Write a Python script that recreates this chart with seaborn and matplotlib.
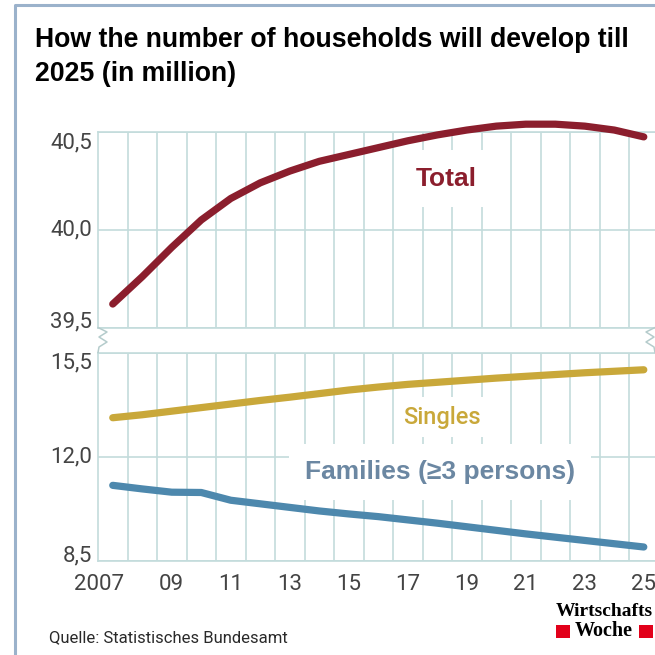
import matplotlib
matplotlib.use("Agg")
import numpy as np
import matplotlib.pyplot as plt
import matplotlib.transforms as mtransforms
from matplotlib.lines import Line2D
from matplotlib.patches import Rectangle
import seaborn as sns

# ---- data (million households) ----
years = list(range(2007, 2026))
total = [39.62, 39.76, 39.91, 40.05, 40.16, 40.24, 40.30, 40.35, 40.385, 40.42,
         40.455, 40.485, 40.51, 40.53, 40.54, 40.54, 40.53, 40.51, 40.475]
singles = [13.31, 13.41, 13.53, 13.65, 13.77, 13.89, 14.00, 14.12, 14.24, 14.34,
           14.43, 14.50, 14.57, 14.64, 14.70, 14.76, 14.82, 14.87, 14.92]
families = [11.04, 10.92, 10.81, 10.80, 10.54, 10.42, 10.30, 10.18, 10.08, 9.99,
            9.88, 9.77, 9.65, 9.53, 9.41, 9.30, 9.19, 9.08, 8.97]

x_ticks = [2007, 2009, 2011, 2013, 2015, 2017, 2019, 2021, 2023, 2025]
x_labels = ["2007", "09", "11", "13", "15", "17", "19", "21", "23", "25"]
top_ticks = [39.5, 40.0, 40.5]
top_labels = ["39,5", "40,0", "40,5"]
bottom_ticks = [8.5, 12.0, 15.5]
bottom_labels = ["8,5", "12,0", "15,5"]

title_lines = ["How the number of households will develop till", "2025 (in million)"]
source_text = "Quelle: Statistisches Bundesamt"

# ---- style ----
sns.set_style("white")
plt.rcParams["font.family"] = ["Roboto", "DejaVu Sans"]

C_TOTAL = "#8b1e2d"
C_SINGLES = "#c9a83a"
C_FAMILIES = "#4d88ad"
C_FAMILIES_TXT = "#6b87a2"
C_GRID = "#c3dcdc"
C_FRAME = "#9bb2cb"
C_TICK = "#444444"
BOLD_SANS = ["Liberation Sans", "DejaVu Sans"]

W = H = 655
fig = plt.figure(figsize=(W / 100, H / 100), dpi=100)


def fx(px):
    return px / W


def fy(py):
    return 1 - py / H


ax_top = fig.add_axes([fx(98), fy(327.5), fx(655 - 98), (327.5 - 132) / H])
ax_bot = fig.add_axes([fx(98), fy(561), fx(655 - 98), (561 - 352.5) / H])

for ax in (ax_top, ax_bot):
    ax.set_xlim(2006.5, 2025.38)
    ax.set_xticks(np.arange(2007.5, 2025, 1.0), minor=True)
    ax.grid(which="minor", axis="x", color=C_GRID, lw=1.2)
    ax.grid(which="major", axis="y", color=C_GRID, lw=1.2)
    ax.grid(which="major", axis="x", visible=False)
    for side in ("left", "top", "bottom"):
        ax.spines[side].set_color(C_GRID)
        ax.spines[side].set_linewidth(1.2)
    ax.spines["right"].set_visible(False)
    ax.tick_params(axis="both", which="both", length=0, labelsize=16,
                   labelcolor=C_TICK)
    ax.tick_params(axis="y", pad=4.5)
    ax.set_axisbelow(True)

# upper panel: all households
sns.lineplot(x=years, y=total, ax=ax_top, color=C_TOTAL, lw=5.2,
             solid_capstyle="round", solid_joinstyle="round",
             clip_on=False, zorder=5)
ax_top.set_ylim(39.5, 40.5)
ax_top.set_yticks(top_ticks)
ax_top.set_yticklabels(top_labels)
ax_top.set_xticks(x_ticks)
ax_top.tick_params(axis="x", labelbottom=False)

# lower panel: singles and families
sns.lineplot(x=years, y=singles, ax=ax_bot, color=C_SINGLES, lw=5.2,
             solid_capstyle="round", solid_joinstyle="round", zorder=5)
sns.lineplot(x=years, y=families, ax=ax_bot, color=C_FAMILIES, lw=5.2,
             solid_capstyle="round", solid_joinstyle="round", zorder=5)
ax_bot.set_ylim(8.5, 15.5)
ax_bot.set_yticks(bottom_ticks)
ax_bot.set_yticklabels(bottom_labels)
ax_bot.set_xticks(x_ticks)
ax_bot.set_xticklabels(x_labels)
ax_bot.tick_params(axis="x", pad=9)

for ax in (ax_top, ax_bot):
    ax.set_xlabel("")
    ax.set_ylabel("")
    labs = ax.get_yticklabels()
    labs[0].set_va("baseline")
    labs[1].set_va("center")
    labs[2].set_va("top")

# nudge the four-digit first year label to the left
shift = mtransforms.ScaledTranslation(-14 / 100, 0, fig.dpi_scale_trans)
first = ax_bot.get_xticklabels()[0]
first.set_transform(first.get_transform() + shift)

# series labels
ax_top.text(2018.3, 40.262, "Total", color=C_TOTAL, fontsize=19,
            fontweight="bold", family=BOLD_SANS, ha="center", va="center",
            zorder=4,
            bbox=dict(boxstyle="square,pad=0.62", fc="white", ec="none"))
ax_bot.text(2018.15, 13.33, "Singles", color=C_SINGLES, fontsize=17,
            fontweight="medium", ha="center", va="center", zorder=4,
            bbox=dict(boxstyle="square,pad=0.35", fc="white", ec="none"))
ax_bot.text(2018.08, 11.48, "Families (\u22653 persons)", color=C_FAMILIES_TXT,
            fontsize=19, fontweight="bold", family=BOLD_SANS, ha="center",
            va="center", zorder=4,
            bbox=dict(boxstyle="square,pad=0.6", fc="white", ec="none"))

# axis-break zigzags between the panels
zz_y = [327.5, 332, 337, 342, 347, 352.5]
left_x = [98, 107, 99, 107, 99, 98]
right_x = [655, 646, 654, 646, 654, 655]
fig.add_artist(Line2D([fx(v) for v in left_x], [fy(v) for v in zz_y],
                      transform=fig.transFigure, color="#b5cccc", lw=1.1))
fig.add_artist(Line2D([fx(v) for v in right_x], [fy(v) for v in zz_y],
                      transform=fig.transFigure, color="#b5cccc", lw=1.1))

# outer frame (left and top edge)
fig.add_artist(Line2D([fx(15), fx(15), fx(655)], [fy(655), fy(5), fy(5)],
                      transform=fig.transFigure, color=C_FRAME, lw=2.2))

# title
fig.text(fx(35), fy(47), title_lines[0], fontsize=19.2, fontweight="bold",
         family=BOLD_SANS, color="black", ha="left", va="baseline")
fig.text(fx(35), fy(81), title_lines[1], fontsize=19.2, fontweight="bold",
         family=BOLD_SANS, color="black", ha="left", va="baseline")

# source note
fig.text(fx(49), fy(638), source_text, fontsize=12, color="#2a2a2a",
         ha="left", va="center")

# publisher mark
fig.text(fx(604), fy(612), "Wirtschafts", fontsize=14, fontweight="bold",
         family=["Liberation Serif", "DejaVu Serif"], color="black",
         ha="center", va="center")
fig.text(fx(604), fy(631.5), "Woche", fontsize=14.5, fontweight="bold",
         family=["Liberation Serif", "DejaVu Serif"], color="black",
         ha="center", va="center")
for x0 in (556, 639):
    fig.add_artist(Rectangle((fx(x0), fy(638)), 14 / W, 13 / H,
                             transform=fig.transFigure, fc="#e2001a",
                             ec="none"))

fig.savefig("out.png", dpi=100)
